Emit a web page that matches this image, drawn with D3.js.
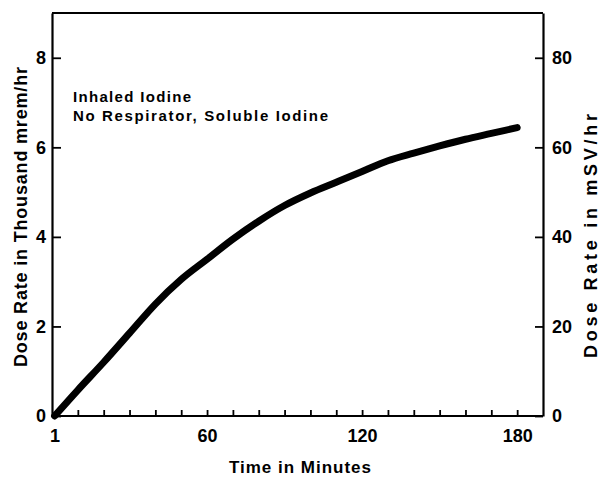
<!DOCTYPE html>
<html>
<head>
<meta charset="utf-8">
<script src="https://cdn.jsdelivr.net/npm/d3@7"></script>
<style>
  html, body { margin: 0; padding: 0; background: #fff; }
  svg { display: block; }
  text { font-family: "Liberation Sans", Arial, sans-serif; fill: #000; }
</style>
</head>
<body>
<script>
// ---- data ----
const minutes = [1, 10, 20, 30, 40, 50, 60, 70, 80, 90, 100, 110, 120, 130, 140, 150, 160, 170, 180];
const doseThousandMremHr = [0, 0.58, 1.2, 1.85, 2.5, 3.05, 3.5, 3.95, 4.35, 4.7, 4.98, 5.22, 5.46, 5.7, 5.87, 6.03, 6.18, 6.31, 6.44];
const xLabelValues = [1, 60, 120, 180];
const xLabelTexts = ["1", "60", "120", "180"];
const xMinorTicks = [10, 20, 30, 40, 50, 60, 70, 80, 90, 100, 110, 120, 130, 140, 150, 160, 170, 180];
const yLeftTicks = [0, 2, 4, 6, 8];
const yRightTicks = [0, 20, 40, 60, 80];
const annotationLines = ["Inhaled Iodine", "No Respirator, Soluble Iodine"];
const xTitle = "Time in Minutes";
const yLeftTitle = "Dose Rate in Thousand mrem/hr";
const yRightTitle = "Dose Rate in mSV/hr";

// ---- layout ----
const W = 608, H = 477;
const L = 52, R = 543, T = 13, B = 416;

const svg = d3.select("body").append("svg").attr("width", W).attr("height", H);
svg.append("rect").attr("width", W).attr("height", H).attr("fill", "#fff");

const x = d3.scaleLinear().domain([0, 190]).range([L, R]);
const y = d3.scaleLinear().domain([0, 9]).range([B, T]);
const y2 = d3.scaleLinear().domain([0, 90]).range([B, T]);

function styleAxis(g) {
  g.selectAll("path.domain").attr("stroke", "#000").attr("stroke-width", 2.2);
  g.selectAll(".tick line").attr("stroke", "#000").attr("stroke-width", 1.8);
  g.selectAll(".tick text").attr("font-size", 18).attr("font-weight", "bold")
    .attr("font-family", "'Liberation Sans', Arial, sans-serif").attr("fill", "#000");
}

// left axis
const gl = svg.append("g").attr("transform", `translate(${L},0)`)
  .call(d3.axisLeft(y).tickValues(yLeftTicks).tickFormat(d3.format("d")).tickSize(-9).tickSizeOuter(0).tickPadding(6));
styleAxis(gl);

// right axis
const gr = svg.append("g").attr("transform", `translate(${R},0)`)
  .call(d3.axisRight(y2).tickValues(yRightTicks).tickFormat(d3.format("d")).tickSize(-8).tickSizeOuter(0).tickPadding(9));
styleAxis(gr);

// bottom axis: minor inward ticks
const gb = svg.append("g").attr("transform", `translate(0,${B})`)
  .call(d3.axisBottom(x).tickValues(xMinorTicks).tickFormat("").tickSize(-6).tickSizeOuter(0));
styleAxis(gb);
gb.select("path.domain").attr("d", `M${L},0H${R}`);

// bottom axis labels
const gbl = svg.append("g").attr("transform", `translate(0,${B})`)
  .call(d3.axisBottom(x).tickValues(xLabelValues).tickFormat((d, i) => xLabelTexts[i]).tickSize(0).tickPadding(13));
styleAxis(gbl);
gbl.select("path.domain").remove();

// top frame line
svg.append("line").attr("x1", L).attr("x2", R).attr("y1", T).attr("y2", T)
  .attr("stroke", "#000").attr("stroke-width", 2.2);

// curve
const line = d3.line().x((d, i) => x(minutes[i])).y(d => y(d)).curve(d3.curveMonotoneX);
svg.append("path").datum(doseThousandMremHr).attr("d", line)
  .attr("fill", "none").attr("stroke", "#000").attr("stroke-width", 7)
  .attr("stroke-linecap", "round").attr("stroke-linejoin", "round");

// annotation
svg.append("text").attr("x", 73).attr("y", 102).attr("font-size", 15).attr("font-weight", "bold")
  .attr("textLength", 118).attr("lengthAdjust", "spacing").text(annotationLines[0]);
svg.append("text").attr("x", 73).attr("y", 121).attr("font-size", 15).attr("font-weight", "bold")
  .attr("textLength", 255).attr("lengthAdjust", "spacing").text(annotationLines[1]);

// x title
svg.append("text").attr("x", 300).attr("y", 473).attr("text-anchor", "middle")
  .attr("font-size", 17).attr("font-weight", "bold")
  .attr("textLength", 142).attr("lengthAdjust", "spacing").text(xTitle);

// left title
svg.append("text").attr("transform", "translate(27,217) rotate(-90)").attr("text-anchor", "middle")
  .attr("font-size", 18).attr("font-weight", "bold")
  .attr("textLength", 300).attr("lengthAdjust", "spacing").text(yLeftTitle);

// right title
svg.append("text").attr("transform", "translate(597,236) rotate(-90)").attr("text-anchor", "middle")
  .attr("font-size", 18).attr("font-weight", "bold")
  .attr("textLength", 244).attr("lengthAdjust", "spacing").text(yRightTitle);
</script>
</body>
</html>
